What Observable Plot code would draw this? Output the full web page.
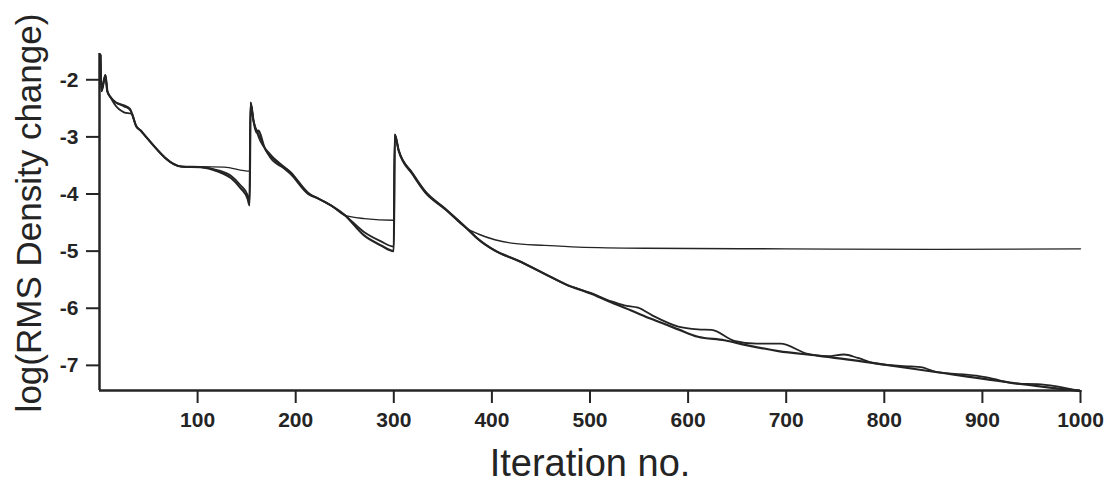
<!DOCTYPE html>
<html><head><meta charset="utf-8">
<script src="https://cdn.jsdelivr.net/npm/d3@7"></script>
<script src="https://cdn.jsdelivr.net/npm/@observablehq/plot@0.6"></script>
<style>body{margin:0;background:#fff} svg{display:block} g[aria-label$="tick label"] text{font-weight:bold}</style>
</head><body><div id="chart"></div>
<script>
// Series A (thick, smooth)
const xA = [1,2,6,8,11,16,25,31,38,42,44,84,103,120,134,144,151,153,154,157,160,162,168,181,195,213,223,236,250,270,287,300,301,305,319,332,352,375,386,403,427,454,475,502,522,542,563,590,610,637,658,692,732,793,854,928,1000];
const yA = [-1.57,-2.2,-1.92,-2.2,-2.3,-2.39,-2.45,-2.51,-2.83,-2.89,-2.93,-3.52,-3.53,-3.6,-3.72,-3.9,-4.08,-4.2,-2.4,-2.72,-2.92,-2.89,-3.18,-3.44,-3.65,-4.0,-4.08,-4.2,-4.37,-4.73,-4.9,-5.0,-2.96,-3.24,-3.65,-3.97,-4.26,-4.61,-4.79,-4.99,-5.17,-5.4,-5.58,-5.75,-5.9,-6.04,-6.19,-6.37,-6.5,-6.56,-6.64,-6.75,-6.83,-6.97,-7.12,-7.3,-7.45];
// Series B (thick, wavy)
const xB = [1,2,6,8,11,15,25,33,37,42,44,84,103,120,134,144,151,153,154,157,162,174,195,213,223,236,250,270,287,300,301,305,319,332,352,375,386,403,427,454,475,502,522,535,549,563,590,610,624,647,670,694,722,742,759,773,789,827,837,854,894,907,934,956,1000];
const yB = [-1.57,-2.2,-1.92,-2.2,-2.3,-2.42,-2.57,-2.6,-2.8,-2.89,-2.93,-3.52,-3.53,-3.58,-3.68,-3.85,-4.02,-4.15,-2.4,-2.72,-2.95,-3.36,-3.62,-3.98,-4.08,-4.2,-4.37,-4.67,-4.83,-4.92,-2.96,-3.24,-3.63,-3.95,-4.25,-4.61,-4.79,-4.99,-5.17,-5.4,-5.58,-5.74,-5.88,-5.95,-5.99,-6.12,-6.32,-6.37,-6.38,-6.57,-6.62,-6.62,-6.8,-6.84,-6.81,-6.87,-6.96,-7.02,-7.03,-7.12,-7.18,-7.22,-7.32,-7.33,-7.45];
// Series C (thin, levels off)
const xC = [1,2,6,8,11,16,25,31,38,42,44,84,103,127,153,154,157,162,174,195,213,223,236,250,270,300,301,305,319,332,352,375,386,403,420,454,488,556,700,850,1000];
const yC = [-1.57,-2.2,-1.92,-2.2,-2.3,-2.39,-2.47,-2.53,-2.83,-2.89,-2.93,-3.52,-3.52,-3.53,-3.6,-2.4,-2.72,-3.0,-3.3,-3.62,-4.0,-4.08,-4.2,-4.37,-4.43,-4.46,-2.96,-3.24,-3.65,-3.97,-4.26,-4.61,-4.7,-4.8,-4.86,-4.9,-4.93,-4.95,-4.96,-4.97,-4.96];

const xTicks = [100,200,300,400,500,600,700,800,900,1000];
const yTicks = [-2,-3,-4,-5,-6,-7];
const xTitle = "Iteration no.";
const yTitle = "log(RMS Density change)";

const rows = (xs, ys) => xs.map((x, i) => ({x, y: ys[i]}));
const ink = "#242424";

const chart = Plot.plot({
  width: 1116, height: 484,
  marginLeft: 99, marginRight: 36, marginTop: 53, marginBottom: 94,
  style: {fontFamily: "'Liberation Sans', Arial, sans-serif", fontSize: "21px", color: ink, background: "#fff"},
  x: {domain: [0, 1000]},
  y: {domain: [-7.44, -1.54]},
  marks: [
    Plot.axisX({ticks: xTicks, tickSize: 13, tickPadding: 9, strokeWidth: 2, label: null, tickFormat: d => String(d)}),
    Plot.axisY({ticks: yTicks, tickSize: 13, tickPadding: 8, strokeWidth: 2, label: null, tickFormat: d => String(d)}),
    Plot.ruleX([0], {stroke: ink, strokeWidth: 2.5}),
    Plot.ruleY([-7.44], {stroke: ink, strokeWidth: 2.5}),
    Plot.line(rows(xC, yC), {x: "x", y: "y", stroke: ink, strokeWidth: 1.4, curve: "monotone-x"}),
    Plot.line(rows(xA, yA), {x: "x", y: "y", stroke: ink, strokeWidth: 2.2, curve: "monotone-x"}),
    Plot.line(rows(xB, yB), {x: "x", y: "y", stroke: ink, strokeWidth: 1.8, curve: "monotone-x"}),
    Plot.text([xTitle], {frameAnchor: "bottom", dy: 73, lineAnchor: "middle", fontSize: 38, fill: ink}),
    Plot.text([yTitle], {frameAnchor: "left", dx: -70, dy: -9, rotate: -90, textAnchor: "middle", lineAnchor: "middle", fontSize: 35, fill: ink})
  ]
});
document.getElementById("chart").appendChild(chart);
</script>
</body></html>
